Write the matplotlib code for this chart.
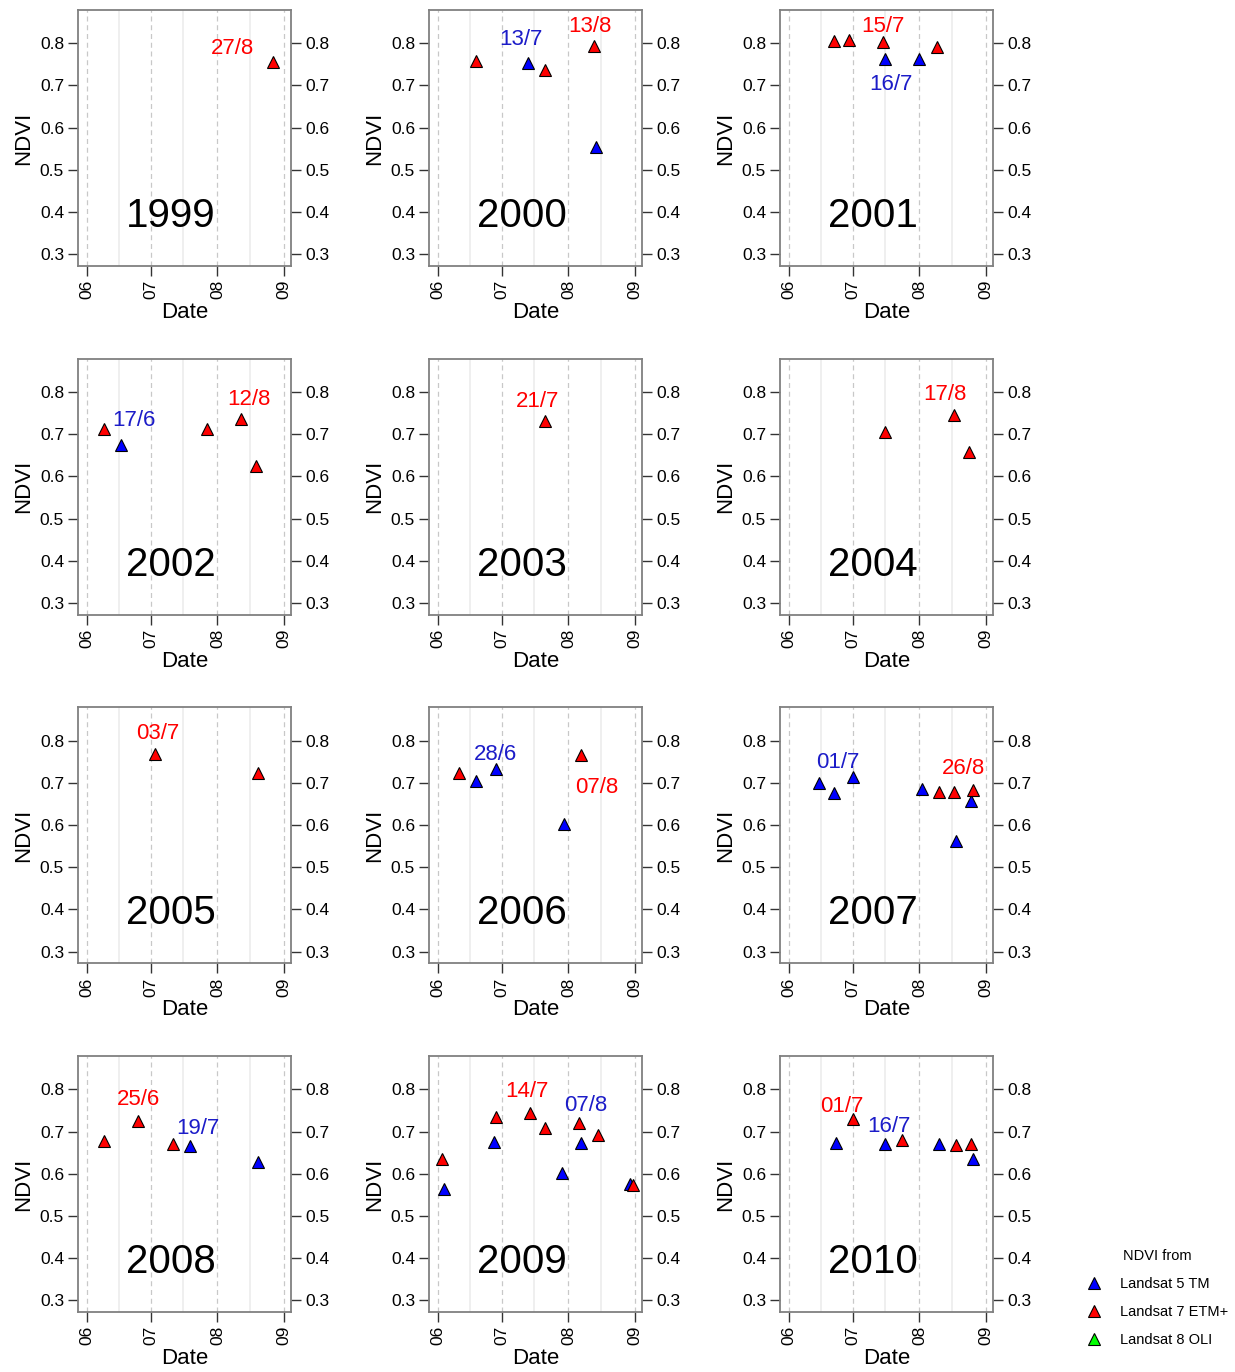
import numpy as np
import pandas as pd
import matplotlib
matplotlib.use('Agg')
import matplotlib.pyplot as plt
from matplotlib.lines import Line2D

plt.rcParams['font.family'] = ['Liberation Sans', 'DejaVu Sans']

years = [1999, 2000, 2001, 2002, 2003, 2004, 2005, 2006, 2007, 2008, 2009, 2010]

# Landsat 5 TM (blue)
tm_year = [2000, 2000, 2001, 2001, 2002, 2006, 2006, 2006,
           2007, 2007, 2007, 2007, 2007, 2007, 2008, 2008,
           2009, 2009, 2009, 2009, 2009, 2010, 2010, 2010, 2010]
tm_date = ['07-13', '08-14', '07-16', '08-01', '06-17', '06-19', '06-28', '07-30',
           '06-15', '06-22', '07-01', '08-02', '08-18', '08-25', '07-19', '08-20',
           '06-04', '06-27', '07-29', '08-07', '08-30', '06-23', '07-16', '08-10', '08-26']
tm_ndvi = [0.753, 0.555, 0.764, 0.764, 0.674, 0.705, 0.734, 0.602,
           0.699, 0.677, 0.713, 0.685, 0.562, 0.658, 0.666, 0.628,
           0.564, 0.676, 0.603, 0.673, 0.575, 0.672, 0.670, 0.670, 0.635]

# Landsat 7 ETM+ (red)
etm_year = [1999, 2000, 2000, 2000, 2001, 2001, 2001, 2001,
            2002, 2002, 2002, 2002, 2003, 2004, 2004, 2004,
            2005, 2005, 2006, 2006, 2007, 2007, 2007,
            2008, 2008, 2008, 2009, 2009, 2009, 2009, 2009, 2009, 2009,
            2010, 2010, 2010, 2010]
etm_date = ['08-27', '06-19', '07-21', '08-13', '06-22', '06-29', '07-15', '08-09',
            '06-09', '07-27', '08-12', '08-19', '07-21', '07-16', '08-17', '08-24',
            '07-03', '08-20', '06-11', '08-07', '08-10', '08-17', '08-26',
            '06-09', '06-25', '07-11', '06-03', '06-28', '07-14', '07-21', '08-06', '08-15', '08-31',
            '07-01', '07-24', '08-18', '08-25']
etm_ndvi = [0.755, 0.758, 0.737, 0.794, 0.806, 0.807, 0.804, 0.792,
            0.712, 0.712, 0.735, 0.625, 0.731, 0.705, 0.745, 0.658,
            0.768, 0.723, 0.724, 0.766, 0.678, 0.678, 0.684,
            0.678, 0.726, 0.670, 0.636, 0.735, 0.745, 0.709, 0.721, 0.693, 0.573,
            0.731, 0.680, 0.668, 0.670]

# highlighted dates (year, date, sensor)
lab_year = [1999, 2000, 2000, 2001, 2001, 2002, 2002, 2003, 2004, 2005,
            2006, 2006, 2007, 2007, 2008, 2008, 2009, 2009, 2010, 2010]
lab_date = ['08-27', '07-13', '08-13', '07-15', '07-16', '06-17', '08-12', '07-21', '08-17', '07-03',
            '06-28', '08-07', '07-01', '08-26', '06-25', '07-19', '07-14', '08-07', '07-01', '07-16']
lab_sensor = ['etm', 'tm', 'etm', 'etm', 'tm', 'tm', 'etm', 'etm', 'etm', 'etm',
              'tm', 'etm', 'tm', 'etm', 'etm', 'tm', 'etm', 'tm', 'etm', 'tm']
# text offsets in points
lab_off = [(-29, 10), (-5, 17), (-3, 14), (0, 11), (4, -19), (9, 18), (6, 14), (-5, 14), (-6, 15), (2, 15),
           (0, 10), (11, -23), (-11, 11), (-7, 15), (0, 15), (6, 12.5), (-2, 15), (3, 27), (-8, 9), (3, 12.5)]

months = ['06', '07', '08', '09']

tm = pd.DataFrame({'year': tm_year, 'date': tm_date, 'ndvi': tm_ndvi})
etm = pd.DataFrame({'year': etm_year, 'date': etm_date, 'ndvi': etm_ndvi})


def day_of(year, md):
    return (pd.Timestamp(f'{year}-{md}') - pd.Timestamp(f'{year}-06-01')).days


col_blue = '#0000ff'
col_red = '#ff0000'
txt_blue = '#1c1cc8'

W, H = 1235, 1372
fig = plt.figure(figsize=(W / 100, H / 100), dpi=100)

for i, yr in enumerate(years):
    r, c = divmod(i, 3)
    left = 78 + 351 * c
    top = 10 + 348.7 * r
    ax = fig.add_axes([left / W, 1 - (top + 256) / H, 213 / W, 256 / H])

    for m in months:
        ax.axvline(day_of(yr, m + '-01'), color='#c8c8c8', lw=0.9, ls=(0, (4, 3)), zorder=0)
    for m in months[:3]:
        ax.axvline(day_of(yr, m + '-16'), color='#ececec', lw=1.2, zorder=0)

    for df, col in [(tm, col_blue), (etm, col_red)]:
        sub = df[df['year'] == yr]
        xs = [day_of(yr, d) for d in sub['date']]
        ax.plot(xs, sub['ndvi'], ls='none', marker='^', ms=9, mfc=col, mec='black', mew=0.8, zorder=3)

    for ly, ld, ls, off in zip(lab_year, lab_date, lab_sensor, lab_off):
        if ly != yr:
            continue
        df = tm if ls == 'tm' else etm
        row = df[(df['year'] == ly) & (df['date'] == ld)].iloc[0]
        mm, dd = ld.split('-')
        ax.annotate(f'{dd}/{int(mm)}', (day_of(ly, ld), row['ndvi']), xytext=off,
                    textcoords='offset points', ha='center', va='center', fontsize=16,
                    color=txt_blue if ls == 'tm' else col_red, zorder=4)

    ax.text(0.437, 0.152, str(yr), transform=ax.transAxes, ha='center', va='baseline', fontsize=29)

    ax.set_xlim(-4.2, 95.4)
    ax.set_ylim(0.272, 0.879)
    ax.set_xticks([day_of(yr, m + '-01') for m in months])
    ax.set_xticklabels(months, rotation=90)
    ax.set_yticks([0.3, 0.4, 0.5, 0.6, 0.7, 0.8])
    ax.set_yticklabels(['0.3', '0.4', '0.5', '0.6', '0.7', '0.8'])
    ax.tick_params(axis='both', labelsize=12.5, length=7, width=1, color='#333333', pad=3)
    ax.tick_params(axis='y', right=True, labelright=True)
    for s in ax.spines.values():
        s.set_color('#808080')
        s.set_linewidth(1.3)
    ax.set_xlabel('Date', fontsize=16, labelpad=2)
    ax.set_ylabel('NDVI', fontsize=16, labelpad=4)

handles = [Line2D([], [], ls='none', marker='^', ms=9, mfc=cl, mec='black', mew=0.8)
           for cl in [col_blue, col_red, '#00ff00']]
fig.legend(handles, ['Landsat 5 TM', 'Landsat 7 ETM+', 'Landsat 8 OLI'], title='NDVI from',
           loc='upper left', bbox_to_anchor=(1076 / W, 1 - 1239 / H), frameon=False,
           fontsize=10.5, title_fontsize=10.5, labelspacing=0.95, handlelength=1.0,
           handletextpad=1.3, borderpad=0.2)

fig.savefig('out.png', dpi=100, facecolor='white')
